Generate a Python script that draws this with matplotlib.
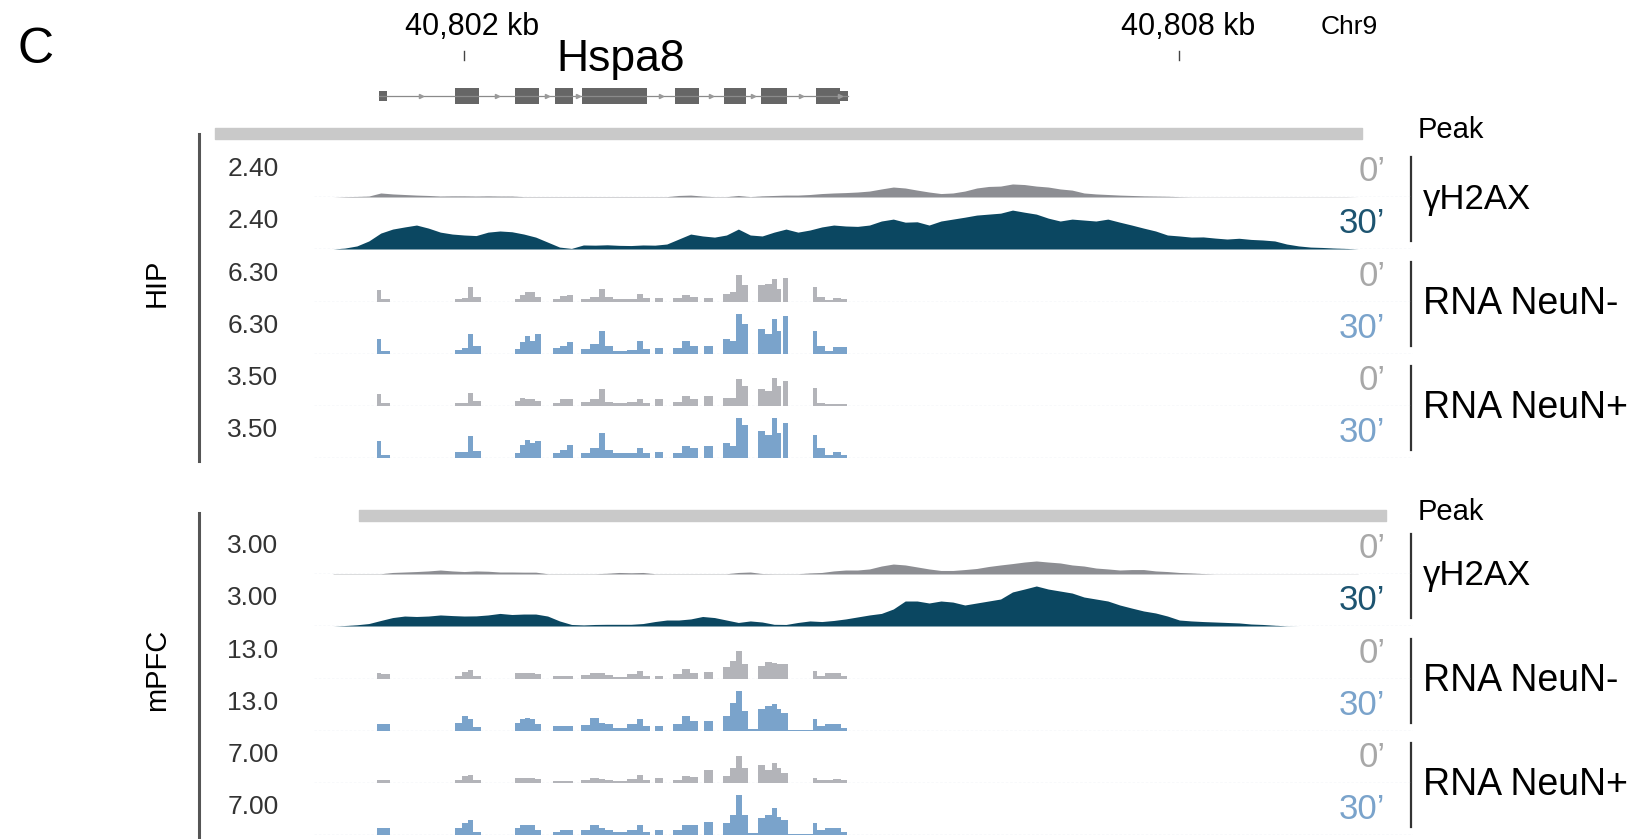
import numpy as np
import matplotlib
matplotlib.use("Agg")
import matplotlib.pyplot as plt
from matplotlib.patches import Rectangle

plt.rcParams['font.family'] = ['Liberation Sans', 'DejaVu Sans']

#%% data -------------------------------------------------------------
# genomic axis in kb, offset from 40,800 kb (chr9)
tick_kb = [2, 8]
tick_lab = ["40,802 kb", "40,808 kb"]

# Hspa8 gene model
exon_start = [1.288, 1.925, 2.427, 2.763, 2.989, 3.769, 4.179, 4.490, 4.951, 5.152]
exon_end = [1.355, 2.126, 2.629, 2.914, 3.534, 3.970, 4.364, 4.707, 5.152, 5.219]
exon_utr = [True, False, False, False, False, False, False, False, False, True]

# called peak regions
peak_hip = (-0.09, 9.535)
peak_mpfc = (1.119, 9.737)

# gH2AX coverage, sampled every 0.1 kb
gh_pos = [0.9, 1.0, 1.1, 1.2, 1.3, 1.4, 1.5, 1.6, 1.7, 1.8,
          1.9, 2.0, 2.1, 2.2, 2.3, 2.4, 2.5, 2.6, 2.7, 2.8,
          2.9, 3.0, 3.1, 3.2, 3.3, 3.4, 3.5, 3.6, 3.7, 3.8,
          3.9, 4.0, 4.1, 4.2, 4.3, 4.4, 4.5, 4.6, 4.7, 4.8,
          4.9, 5.0, 5.1, 5.2, 5.3, 5.4, 5.5, 5.6, 5.7, 5.8,
          5.9, 6.0, 6.1, 6.2, 6.3, 6.4, 6.5, 6.6, 6.7, 6.8,
          6.9, 7.0, 7.1, 7.2, 7.3, 7.4, 7.5, 7.6, 7.7, 7.8,
          7.9, 8.0, 8.1, 8.2, 8.3, 8.4, 8.5, 8.6, 8.7, 8.8,
          8.9, 9.0, 9.1, 9.2, 9.3, 9.4, 9.5]

hip_gh_0 = [0.00, 0.02, 0.03, 0.05, 0.21, 0.16, 0.13, 0.10, 0.08, 0.05,
            0.06, 0.06, 0.05, 0.06, 0.05, 0.05, 0.02, 0.02, 0.02, 0.02,
            0.02, 0.02, 0.02, 0.02, 0.02, 0.02, 0.02, 0.02, 0.02, 0.08,
            0.10, 0.05, 0.02, 0.02, 0.08, 0.02, 0.06, 0.08, 0.10, 0.10,
            0.13, 0.18, 0.21, 0.23, 0.26, 0.31, 0.42, 0.52, 0.47, 0.36,
            0.26, 0.18, 0.21, 0.31, 0.47, 0.55, 0.57, 0.68, 0.65, 0.57,
            0.52, 0.42, 0.36, 0.21, 0.16, 0.13, 0.10, 0.08, 0.06, 0.05,
            0.04, 0.02, 0.01, 0.01, 0.01, 0.01, 0.01, 0.01, 0.01, 0.01,
            0.01, 0.01, 0.01, 0.01, 0.01, 0.01, 0.00]
hip_gh_30 = [0.00, 0.05, 0.16, 0.42, 0.83, 1.04, 1.15, 1.25, 1.09, 0.88,
             0.78, 0.73, 0.70, 0.88, 0.94, 0.90, 0.78, 0.62, 0.36, 0.10,
             0.03, 0.21, 0.20, 0.22, 0.19, 0.18, 0.21, 0.20, 0.26, 0.52,
             0.78, 0.68, 0.62, 0.73, 1.04, 0.73, 0.68, 0.88, 1.04, 0.88,
             0.99, 1.15, 1.25, 1.20, 1.18, 1.25, 1.46, 1.56, 1.40, 1.42,
             1.25, 1.46, 1.56, 1.66, 1.77, 1.82, 1.87, 2.03, 1.92, 1.82,
             1.61, 1.46, 1.56, 1.51, 1.46, 1.56, 1.40, 1.25, 1.09, 0.94,
             0.73, 0.68, 0.62, 0.63, 0.57, 0.52, 0.56, 0.50, 0.47, 0.42,
             0.26, 0.16, 0.10, 0.08, 0.05, 0.03, 0.00]
mpfc_gh_0 = [0.02, 0.02, 0.02, 0.02, 0.02, 0.10, 0.13, 0.16, 0.20, 0.26,
             0.20, 0.16, 0.20, 0.18, 0.13, 0.13, 0.12, 0.12, 0.02, 0.02,
             0.02, 0.02, 0.02, 0.05, 0.10, 0.08, 0.10, 0.02, 0.02, 0.02,
             0.02, 0.02, 0.02, 0.02, 0.10, 0.13, 0.03, 0.02, 0.02, 0.02,
             0.07, 0.10, 0.20, 0.26, 0.26, 0.33, 0.52, 0.65, 0.59, 0.46,
             0.33, 0.23, 0.23, 0.29, 0.36, 0.49, 0.59, 0.68, 0.78, 0.85,
             0.78, 0.72, 0.59, 0.52, 0.39, 0.33, 0.26, 0.29, 0.29, 0.20,
             0.16, 0.10, 0.07, 0.03, 0.01, 0.01, 0.01, 0.01, 0.01, 0.01,
             0.01, 0.01, 0.01, 0.01, 0.01, 0.01, 0.01]
mpfc_gh_30 = [0.00, 0.03, 0.08, 0.16, 0.36, 0.55, 0.65, 0.62, 0.65, 0.72,
              0.68, 0.65, 0.66, 0.72, 0.82, 0.75, 0.78, 0.78, 0.65, 0.33,
              0.10, 0.07, 0.10, 0.11, 0.11, 0.11, 0.16, 0.29, 0.39, 0.39,
              0.46, 0.62, 0.55, 0.39, 0.23, 0.33, 0.26, 0.11, 0.10, 0.23,
              0.33, 0.29, 0.36, 0.46, 0.59, 0.72, 0.82, 1.11, 1.63, 1.63,
              1.50, 1.63, 1.56, 1.37, 1.50, 1.63, 1.76, 2.22, 2.41, 2.61,
              2.41, 2.28, 2.15, 1.89, 1.76, 1.63, 1.37, 1.17, 0.98, 0.85,
              0.65, 0.39, 0.33, 0.29, 0.26, 0.23, 0.20, 0.13, 0.10, 0.05,
              0.01, 0.00, 0.00, 0.00, 0.00, 0.00, 0.00]

# RNA-seq coverage as steps between bin edges (kb)
rna_edges = [1.268, 1.301, 1.380, 1.924, 1.980, 2.028, 2.078, 2.139, 2.427, 2.469,
             2.511, 2.553, 2.595, 2.642, 2.749, 2.804, 2.860, 2.916, 2.978, 3.056,
             3.134, 3.182, 3.251, 3.363, 3.447, 3.503, 3.559, 3.601, 3.671, 3.754,
             3.824, 3.894, 3.964, 4.011, 4.090, 4.174, 4.229, 4.280, 4.327, 4.383,
             4.467, 4.523, 4.579, 4.621, 4.654, 4.671, 4.718, 4.928, 4.961, 5.026,
             5.096, 5.165, 5.213]

hip_neg_0 = [1.60, 0.46, 0, 0.37, 0.55, 2.05, 0.68, 0, 0.37, 0.91,
             1.37, 1.37, 0.68, 0, 0.46, 0.82, 1.00, 0, 0.37, 0.68,
             1.83, 0.68, 0.37, 0.46, 1.14, 0.55, 0, 0.55, 0, 0.55,
             0.91, 0.68, 0, 0.55, 0, 1.14, 1.37, 3.65, 2.28, 0,
             2.28, 2.51, 3.20, 1.83, 0, 3.29, 0, 2.05, 0.68, 0.23,
             0.55, 0.46]
hip_neg_30 = [2.05, 0.46, 0, 0.55, 0.82, 2.74, 1.14, 0.05, 0.68, 1.60,
              2.51, 1.73, 2.74, 0, 0.82, 1.14, 1.60, 0, 0.68, 1.37,
              3.20, 1.14, 0.46, 0.55, 1.83, 0.68, 0, 0.82, 0, 0.82,
              1.73, 1.14, 0, 1.14, 0, 2.05, 1.83, 5.48, 4.11, 0,
              3.42, 2.74, 4.79, 3.20, 0, 5.25, 0.05, 3.20, 1.14, 0.46,
              0.91, 1.00]
hip_pos_0 = [0.89, 0.25, 0, 0.20, 0.25, 1.01, 0.38, 0, 0.38, 0.63,
             0.56, 0.56, 0.38, 0, 0.25, 0.51, 0.51, 0, 0.30, 0.56,
             1.27, 0.30, 0.20, 0.30, 0.51, 0.20, 0, 0.51, 0, 0.30,
             0.76, 0.51, 0, 0.76, 0, 0.63, 0.63, 2.03, 1.52, 0,
             1.27, 1.14, 2.16, 1.52, 0, 1.90, 0, 1.39, 0.25, 0.13,
             0.13, 0.13]
hip_pos_30 = [1.27, 0.25, 0.03, 0.46, 0.46, 1.65, 0.51, 0.02, 0.38, 1.01,
              1.39, 1.14, 1.27, 0, 0.38, 0.63, 1.01, 0, 0.38, 0.76,
              1.90, 0.63, 0.38, 0.38, 0.76, 0.38, 0, 0.46, 0, 0.38,
              0.89, 0.76, 0, 0.89, 0, 1.14, 0.89, 3.04, 2.54, 0,
              2.03, 1.78, 3.04, 1.90, 0, 2.66, 0.03, 1.78, 0.76, 0.25,
              0.46, 0.20]
mpfc_neg_0 = [1.70, 1.41, 0, 0.94, 2.07, 2.64, 0.94, 0, 1.70, 1.70,
              1.70, 1.70, 1.41, 0, 0.94, 0.94, 0.94, 0, 1.13, 1.70,
              1.70, 1.13, 0.66, 1.41, 2.36, 0.75, 0, 0.94, 0, 1.41,
              2.83, 1.70, 0, 1.88, 0, 3.30, 5.18, 8.01, 4.24, 0,
              3.77, 4.71, 4.52, 4.24, 4.24, 4.24, 0, 2.36, 0.94, 1.70,
              1.70, 0.75]
mpfc_neg_30 = [2.07, 2.07, 0, 2.36, 4.24, 3.30, 1.13, 0, 2.36, 3.30,
               3.58, 3.30, 1.88, 0, 1.41, 1.41, 1.41, 0, 1.70, 3.58,
               2.36, 1.88, 0.75, 1.88, 3.30, 1.41, 0, 1.41, 0, 1.88,
               4.24, 2.83, 0, 2.83, 0, 4.24, 8.01, 11.30, 5.65, 0.47,
               6.12, 7.07, 7.54, 6.12, 5.18, 5.18, 0.20, 3.30, 1.41, 2.07,
               2.07, 0.94]
mpfc_pos_0 = [0.51, 0.51, 0, 0.41, 1.01, 1.27, 0.51, 0, 0.76, 0.76,
              0.76, 0.76, 0.61, 0, 0.25, 0.25, 0.25, 0, 0.41, 0.76,
              0.61, 0.51, 0.25, 0.61, 1.27, 0.41, 0, 0.76, 0, 0.51,
              1.01, 0.91, 0, 2.03, 0, 1.01, 2.28, 4.06, 2.28, 0,
              2.79, 2.03, 3.04, 2.28, 1.52, 1.52, 0, 0.76, 0.51, 0.51,
              0.61, 0.41]
mpfc_pos_30 = [1.01, 1.01, 0.03, 1.01, 1.77, 2.28, 0.51, 0, 1.01, 1.52,
               1.52, 1.52, 0.76, 0, 0.41, 0.76, 0.76, 0, 0.76, 1.52,
               1.01, 0.76, 0.41, 0.76, 1.52, 0.51, 0, 0.76, 0, 0.76,
               1.52, 1.52, 0, 2.03, 0, 1.77, 3.04, 6.08, 3.04, 0.25,
               2.54, 3.04, 4.06, 2.79, 2.28, 2.28, 0.10, 1.77, 0.76, 1.01,
               1.01, 0.51]

# data ranges shown on each track
hip_ranges = ["2.40", "2.40", "6.30", "6.30", "3.50", "3.50"]
mpfc_ranges = ["3.00", "3.00", "13.0", "13.0", "7.00", "7.00"]
assays = ["\u03b3H2AX", "RNA NeuN-", "RNA NeuN+"]

#%% styling ----------------------------------------------------------
C_CHIP0 = '#8d8e93'
C_RNA0 = '#b3b4b9'
C_TEAL = '#0b4761'
C_BLUE = '#7aa3cb'
C_T0 = '#a8a8a8'
C_GENE = '#666666'
C_BASE = '#cbd6e0'

W, H = 1641, 839
X_LO, X_HI = 0.74, 9.96        # visible window (kb offset)
AX_X0, AX_W = 314, 1099        # track axes in pixels
TRK_H = 46

fig = plt.figure(figsize=(W / 100, H / 100), dpi=100)

# overlay for labels and decorations, pixel coordinates
ov = fig.add_axes([0, 0, 1, 1])
ov.set_xlim(0, W)
ov.set_ylim(H, 0)
ov.axis('off')


def px_axes(x0, y_base, w, h):
    ax = fig.add_axes([x0 / W, (H - y_base) / H, w / W, h / H])
    ax.set_xlim(X_LO, X_HI)
    ax.axis('off')
    return ax


def draw_track(y_base, vals, top_lab, color, t_lab, t_color, pos=None):
    ax = px_axes(AX_X0, y_base, AX_W, TRK_H)
    ax.set_ylim(0, float(top_lab))
    ax.axhline(0, color=C_BASE, lw=0.9, ls=(0, (2, 1.5)), zorder=1)
    if pos is None:
        # step coverage on shared rna bins
        ax.fill_between(rna_edges, list(vals) + [0], step='post',
                        color=color, lw=0, zorder=2)
    else:
        ax.fill_between(pos, vals, color=color, lw=0, zorder=2)
    ax.text(-0.079, 0.6, top_lab, transform=ax.transAxes, ha='left',
            va='center', fontsize=19, color='#333333')
    ax.text(0.975, 0.55, t_lab, transform=ax.transAxes, ha='right',
            va='center', fontsize=25, color=t_color)
    return ax


def draw_group(bases, ranges, gh0, gh30, rna, peak, peak_y, name, name_y, line_y):
    draw_track(bases[0], gh0, ranges[0], C_CHIP0, "0\u2019", C_T0, pos=gh_pos)
    draw_track(bases[1], gh30, ranges[1], C_TEAL, "30\u2019", '#1d5470', pos=gh_pos)
    for k in range(2):
        draw_track(bases[2 + 2 * k], rna[2 * k], ranges[2 + 2 * k], C_RNA0,
                   "0\u2019", C_T0)
        draw_track(bases[3 + 2 * k], rna[2 * k + 1], ranges[3 + 2 * k], C_BLUE,
                   "30\u2019", C_BLUE)

    # peak bar
    pa = px_axes(AX_X0, peak_y + 5.5, AX_W, 11)
    pa.set_ylim(0, 1)
    pa.broken_barh([(peak[0], peak[1] - peak[0])], (0, 1), color='#c9c9c9',
                   clip_on=False)
    ov.text(1418, peak_y - 3, "Peak", fontsize=21, ha='left', va='center')

    # assay brackets + names
    for k in range(3):
        y0 = bases[2 * k] - 40
        y1 = bases[2 * k + 1] - 8
        ov.plot([1411, 1411], [y0, y1], color='#333333', lw=1.6)
        ov.text(1423, (y0 + y1) / 2, assays[k], fontsize=25 if k == 0 else 27,
                ha='left', va='center')

    # region bracket
    ov.plot([199, 199], line_y, color='#555555', lw=2.2)
    ov.text(157, name_y, name, rotation=90, fontsize=21, ha='center',
            va='center')


hip_bases = [197, 249, 302, 354, 406, 458]
mpfc_bases = [574, 626, 679, 731, 783, 835]

draw_group(hip_bases, hip_ranges, hip_gh_0, hip_gh_30,
           [hip_neg_0, hip_neg_30, hip_pos_0, hip_pos_30],
           peak_hip, 133.5, "HIP", 283, [134, 461])
draw_group(mpfc_bases, mpfc_ranges, mpfc_gh_0, mpfc_gh_30,
           [mpfc_neg_0, mpfc_neg_30, mpfc_pos_0, mpfc_pos_30],
           peak_mpfc, 515, "mPFC", 670, [513, 839])

#%% gene model + ruler -----------------------------------------------
ga = px_axes(AX_X0, 116, AX_W, 40)
ga.set_ylim(-1, 1)
ga.plot([exon_start[0], exon_end[-1]], [0, 0], color='#8a8a8a', lw=0.9,
        clip_on=False)
for i in range(len(exon_start) - 1):
    mid = (exon_end[i] + exon_start[i + 1]) / 2
    ga.plot(mid, 0, marker='>', ms=3, color='#9a9a9a', clip_on=False)
for s, e, u in zip(exon_start, exon_end, exon_utr):
    hh = 0.5 if u else 0.85
    ga.add_patch(Rectangle((s, -hh / 2 * 0.95), e - s, hh * 0.95,
                           color=C_GENE, lw=0, clip_on=False))
ga.text((exon_start[0] + exon_end[-1]) / 2 + 0.06, 1.8, "Hspa8",
        fontsize=32, ha='center', va='center', clip_on=False)

ra = px_axes(AX_X0, 60, AX_W, 50)
ra.set_ylim(0, 1)
for t, lab in zip(tick_kb, tick_lab):
    ra.plot([t, t], [0.0, 0.18], color='#444444', lw=1.0, clip_on=False)
    ra.text(t + 0.07, 0.66, lab, fontsize=22, ha='center', va='center',
            clip_on=False)
ov.text(1321, 27, "Chr9", fontsize=19, ha='left', va='center')
ov.text(36, 50, "C", fontsize=36, ha='center', va='center')

fig.savefig("out.png", dpi=100, facecolor='white')
